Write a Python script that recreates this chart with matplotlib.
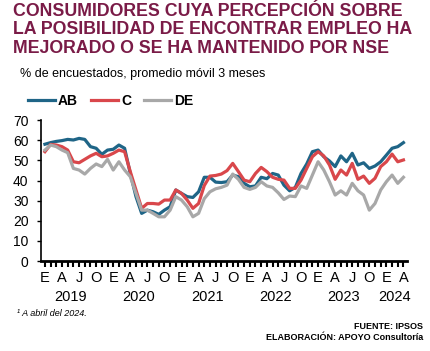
import matplotlib.pyplot as plt
import numpy as np

plt.rcParams['font.family'] = ['Liberation Sans', 'DejaVu Sans']

# meses desde enero 2019 hasta abril 2024
ab = [58, 58.8, 59.4, 59.8, 60.4, 60.1, 60.9, 60.4, 56.8, 56, 53, 55.1,
      55.5, 57.6, 56, 43.5, 32, 23.7, 25.3, 24.5, 23.2, 25.3, 27, 35.3,
      33.6, 32, 31.6, 34.4, 41.6, 41.6, 39.2, 39, 39.4, 42.7, 41.9, 38.6,
      36.9, 37.3, 41.6, 40.9, 43.5, 42.7, 37.7, 34.9, 36.6, 43.5, 48.2, 54.3,
      55.1, 51.8, 49.7, 46.9, 52.2, 49.3, 53.5, 47.7, 48.8, 46, 47.2, 49.3,
      52.6, 56, 56.8, 58.8]
c = [54.3, 57.9, 57.6, 56.8, 55.1, 49.3, 48.8, 50.5, 52.2, 53.5, 51.8, 52.2,
     53.5, 55.1, 54.3, 44.4, 35.3, 26.2, 28.6, 28.6, 28.3, 30.3, 30.3, 35.3,
     33.6, 30.3, 26.2, 28.6, 37.5, 42.2, 42.5, 43.2, 44.9, 48.5, 44.4, 40.2,
     39.4, 43.5, 46.5, 44.4, 41.6, 40.6, 40.2, 36.1, 36.1, 40.2, 46, 51.8,
     54.3, 52.2, 47.7, 40.6, 45.2, 42.7, 48.5, 40.6, 42.2, 38.6, 41.1, 46.9,
     49.3, 53.1, 49.3, 50.2]
de = [55.1, 57.6, 56.8, 55.1, 53.8, 46, 45.2, 43.2, 46, 48.2, 46.9, 50.5,
      45.2, 49.3, 45.2, 41.9, 33.6, 25.3, 25.3, 23.7, 22, 22, 25.3, 32,
      30.3, 27, 22, 23.7, 31, 34.4, 35.9, 36.6, 37.7, 43.2, 40.6, 36.6,
      35.6, 36.6, 39.4, 37.3, 36.6, 33.9, 30.6, 32.3, 32, 37.3, 36.1, 42.7,
      49.3, 45.2, 39.4, 32.8, 34.9, 32.8, 38.6, 34.9, 32.8, 25.3, 28.6, 35.3,
      39.4, 42.7, 38.6, 41.6]
meses = ['E', 'A', 'J', 'O']
anios = ['2019', '2020', '2021', '2022', '2023', '2024']

x = np.arange(len(ab))

fig = plt.figure(figsize=(4.31, 3.51), dpi=100)
ax = fig.add_axes([0.095, 0.256, 0.849, 0.402])

ax.plot(x, ab, color='#1f6587', lw=2.3, label='AB')
ax.plot(x, c, color='#d9474b', lw=2.3, label='C')
ax.plot(x, de, color='#a8a8a8', lw=2.3, label='DE')

ax.set_ylim(0, 70)
ax.set_xlim(-0.7, 63.6)
ax.set_yticks(range(0, 71, 10))
ax.tick_params(axis='y', labelsize=10, length=3, width=1, pad=6)

ax.set_xticks(x, minor=True)
ax.set_xticks(x[::3])
ax.set_xticklabels([meses[i % 4] for i in range(len(x[::3]))], fontsize=10.5)
ax.tick_params(axis='x', which='both', direction='out', length=4, width=1.5, pad=3)

for i, a in enumerate(anios):
    pos = 12 * i + 4.5 if i < 5 else 61.5
    ax.text(pos, -0.205, a, transform=ax.get_xaxis_transform(), ha='center',
            va='top', fontsize=10.5)

for s in ['top', 'right']:
    ax.spines[s].set_visible(False)
ax.spines['bottom'].set_linewidth(2)
ax.spines['left'].set_linewidth(1.2)

ax.legend(loc='lower center', bbox_to_anchor=(0.19, 1.0), ncol=3, frameon=False,
          handlelength=2.0, columnspacing=0.9, handletextpad=0.2,
          prop={'weight': 'bold', 'size': 10})

fig.text(0.03, 0.992, 'CONSUMIDORES CUYA PERCEPCIÓN SOBRE\nLA POSIBILIDAD DE ENCONTRAR EMPLEO HA\nMEJORADO O SE HA MANTENIDO POR NSE',
         ha='left', va='top', fontsize=12.8, fontweight='bold', color='#7a1b47',
         linespacing=1.13)
fig.text(0.047, 0.79, '% de encuestados, promedio móvil 3 meses', ha='left',
         va='center', fontsize=9)
fig.text(0.04, 0.108, '¹ A abril del 2024.', ha='left', va='center', fontsize=6.5,
         style='italic')
fig.text(0.982, 0.071, 'FUENTE: IPSOS', ha='right', va='center', fontsize=6.5,
         fontweight='bold')
fig.text(0.982, 0.038, 'ELABORACIÓN: APOYO Consultoría', ha='right', va='center',
         fontsize=6.5, fontweight='bold')

fig.savefig('out.png', dpi=100)
